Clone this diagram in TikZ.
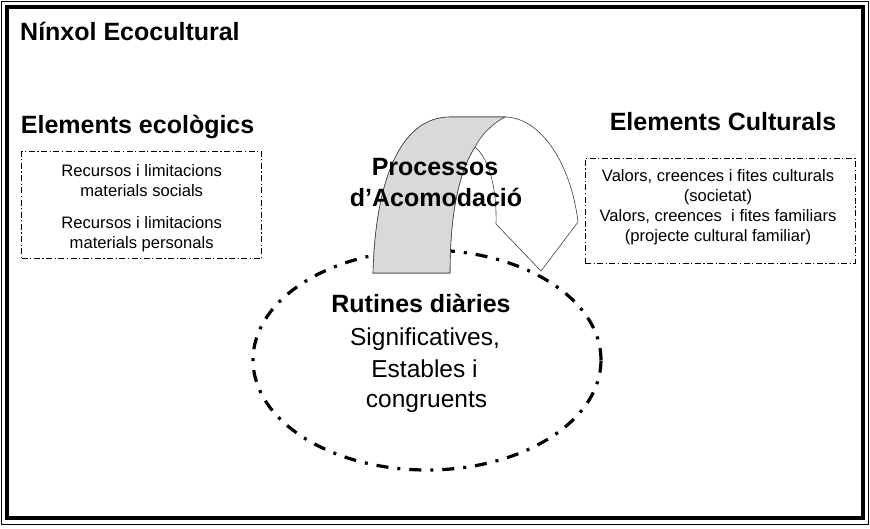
\documentclass[tikz,border=0pt]{standalone}
\usepackage{fontspec}
\setmainfont{Liberation Sans}
\usetikzlibrary{shapes.geometric}

\tikzset{
  titol/.style={font=\fontsize{25}{30}\selectfont\bfseries, inner sep=0pt},
  petit/.style={font=\fontsize{16.6}{20}\selectfont, inner sep=0pt},
  gran/.style={font=\fontsize{24.5}{32}\selectfont, inner sep=0pt},
  caixa/.style={draw, line width=1pt, dash pattern=on 6pt off 2.5pt on 1.2pt off 2.5pt},
  rutina/.style={draw, ellipse, line width=3.2pt, dash pattern=on 12pt off 9pt on 3pt off 9pt},
  fletxa/.style={draw=black!75, line width=0.6pt},
}

\begin{document}
\begin{tikzpicture}[x=1pt,y=-1pt]
\useasboundingbox (0,0) rectangle (870,528);
% marc
\draw[line width=1pt] (1.5,1.5) rectangle (868,524.5);
\draw[line width=4pt] (7,7) rectangle (863,518);
\node[titol, anchor=base west] (ninxol) at (20,40) {Nínxol Ecocultural};

% elements ecologics
\node[titol, anchor=base west] (ecol) at (20.7,133.3) {Elements ecològics};
\node[caixa, minimum width=240, minimum height=106.6] (ecobox) at (141.7,205) {};
\node[petit, anchor=base] (eco1) at (141.7,176.7) {Recursos i limitacions};
\node[petit, anchor=base] (eco2) at (141.7,196.7) {materials socials};
\node[petit, anchor=base] (eco3) at (141.7,228.3) {Recursos i limitacions};
\node[petit, anchor=base] (eco4) at (141.7,248.3) {materials personals};

% elements culturals
\node[titol, anchor=base] (cult) at (723,130) {Elements Culturals};
\node[caixa, minimum width=270, minimum height=105] (cultbox) at (720,210.8) {};
\node[petit, anchor=base] (cult1) at (718,181.7) {Valors, creences i fites culturals};
\node[petit, anchor=base] (cult2) at (718,201.7) {(societat)};
\node[petit, anchor=base] (cult3) at (718,221.7) {Valors, creences~ i fites familiars};
\node[petit, anchor=base] (cult4) at (718,241.7) {(projecte cultural familiar)};

% rutines
\node[rutina, minimum width=348, minimum height=220] (rutines) at (427,360) {};

% fletxa d'acomodacio
\filldraw[fletxa, fill=white] (373,273) .. controls (376,170) and (405,117) .. (450,117)
  -- (507,117) .. controls (545,120) and (572,170) .. (578,222)
  -- (541,271) -- (496,224) .. controls (497,185) and (488,158) .. (475,147)
  .. controls (460,170) and (450,210) .. (450,273) -- cycle;
\filldraw[fletxa, fill=black!15] (373,273) .. controls (376,170) and (405,117) .. (450,117)
  -- (505,117) .. controls (490,125) and (480,137) .. (475,147)
  .. controls (460,170) and (450,210) .. (450,273) -- cycle;
\node[titol, anchor=base] (proc1) at (435,175) {Processos};
\node[titol, anchor=base] (proc2) at (436,206.7) {d’Acomodació};

\node[titol, anchor=base] (rut1) at (421,312) {Rutines diàries};
\node[gran, anchor=base] (rut2) at (425,345) {Significatives,};
\node[gran, anchor=base] (rut3) at (424.5,377) {Estables i};
\node[gran, anchor=base] (rut4) at (426.5,407) {congruents};
\end{tikzpicture}
\end{document}
